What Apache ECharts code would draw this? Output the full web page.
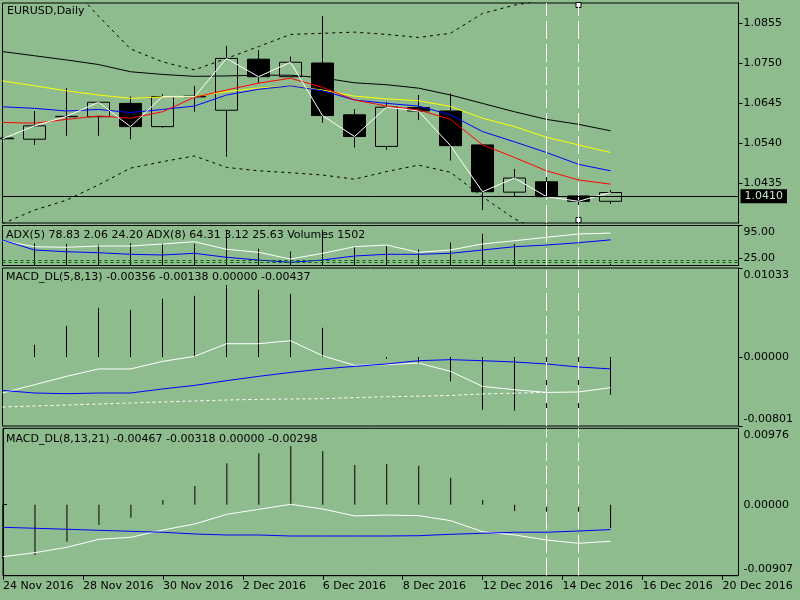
<!DOCTYPE html>
<html lang="en">
<head>
<meta charset="utf-8">
<title>EURUSD,Daily</title>
<script src="https://cdn.jsdelivr.net/npm/echarts@6/dist/echarts.min.js"></script>
<style>
    html, body { margin: 0; padding: 0; background: #8fbc8f; }
    #chart { width: 800px; height: 600px; }
</style>
</head>
<body>
<div id="chart"></div>
<script type="text/javascript">
// bar slots (20 bars drawn + 4 empty slots on the right)
var barDates = ['2016.11.24', '2016.11.25', '2016.11.28', '2016.11.29', '2016.11.30', '2016.12.01',
    '2016.12.02', '2016.12.05', '2016.12.06', '2016.12.07', '2016.12.08', '2016.12.09',
    '2016.12.12', '2016.12.13', '2016.12.14', '2016.12.15', '2016.12.16', '2016.12.19',
    '2016.12.20', '2016.12.21', '2016.12.22', '2016.12.23', '2016.12.26', '2016.12.27'];
var dateTicks = ['24 Nov 2016', '28 Nov 2016', '30 Nov 2016', '2 Dec 2016', '6 Dec 2016',
    '8 Dec 2016', '12 Dec 2016', '14 Dec 2016', '16 Dec 2016', '20 Dec 2016'];

// open, close, low, high
var candles = [
    [1.0553, 1.0551, 1.0546, 1.0558], [1.0550, 1.0585, 1.0535, 1.0624], [1.0609, 1.0610, 1.0559, 1.0684],
    [1.0609, 1.0647, 1.0559, 1.0648], [1.0644, 1.0583, 1.0550, 1.0662], [1.0583, 1.0662, 1.0580, 1.0668],
    [1.0663, 1.0661, 1.0622, 1.0690], [1.0626, 1.0762, 1.0504, 1.0795], [1.0760, 1.0714, 1.0697, 1.0784],
    [1.0714, 1.0752, 1.0713, 1.0767], [1.0750, 1.0612, 1.0593, 1.0873], [1.0614, 1.0557, 1.0528, 1.0629],
    [1.0531, 1.0634, 1.0522, 1.0648], [1.0633, 1.0624, 1.0600, 1.0666], [1.0624, 1.0533, 1.0494, 1.0670],
    [1.0535, 1.0412, 1.0364, 1.0536], [1.0411, 1.0448, 1.0399, 1.0472], [1.0438, 1.0399, 1.0398, 1.0480],
    [1.0401, 1.0387, 1.0348, 1.0415], [1.0387, 1.0410, 1.0380, 1.0417]
];
var closeLine = [1.0551, 1.0585, 1.0610, 1.0647, 1.0583, 1.0662, 1.0661, 1.0762, 1.0714, 1.0752,
    1.0612, 1.0557, 1.0634, 1.0624, 1.0533, 1.0412, 1.0448, 1.0399, 1.0387, 1.0410];
var lastPrice = 1.0410;

var maBlack = [1.0780, 1.0769, 1.0758, 1.0746, 1.0727, 1.0720, 1.0715, 1.0716, 1.0718, 1.0718,
    1.0711, 1.0698, 1.0693, 1.0684, 1.0666, 1.0644, 1.0622, 1.0602, 1.0589, 1.0572];
var maYellow = [1.0703, 1.0690, 1.0677, 1.0666, 1.0657, 1.0661, 1.0662, 1.0675, 1.0684, 1.0690,
    1.0679, 1.0663, 1.0656, 1.0651, 1.0636, 1.0605, 1.0583, 1.0555, 1.0535, 1.0515];
var maBlue = [1.0635, 1.0631, 1.0624, 1.0628, 1.0620, 1.0628, 1.0637, 1.0666, 1.0681, 1.0690,
    1.0677, 1.0653, 1.0644, 1.0637, 1.0614, 1.0570, 1.0543, 1.0515, 1.0484, 1.0467];
var maRed = [1.0594, 1.0592, 1.0602, 1.0611, 1.0605, 1.0622, 1.0660, 1.0679, 1.0697, 1.0710,
    1.0686, 1.0653, 1.0637, 1.0627, 1.0602, 1.0535, 1.0502, 1.0467, 1.0443, 1.0432];
var bandUpper = [1.1010, 1.0990, 1.0964, 1.0873, 1.0787, 1.0753, 1.0732, 1.0762, 1.0793, 1.0825,
    1.0828, 1.0831, 1.0825, 1.0817, 1.0828, 1.0880, 1.0902, 1.0916, 1.0930, 1.0940];
var bandLower = [1.0328, 1.0364, 1.0390, 1.0430, 1.0474, 1.0491, 1.0506, 1.0476, 1.0467, 1.0462,
    1.0456, 1.0445, 1.0465, 1.0482, 1.0463, 1.0399, 1.0341, 1.0300, 1.0280, 1.0270];

// ADX window
var adx5 = [62.5, 49.7, 48.4, 51.2, 51.2, 55.5, 60.4, 44.2, 37.8, 23.4,
    35.6, 49.7, 53.3, 37.8, 42.7, 55.5, 62.5, 69.8, 76.8, 78.83];
var adx8 = [64.0, 42.7, 39.0, 36.9, 33.5, 32.0, 35.6, 27.1, 21.3, 16.4,
    21.3, 29.9, 33.5, 33.5, 35.6, 42.7, 49.7, 53.3, 58.3, 64.31];
var adxLevels = [20, 16];
var adxTicks = [19, 25, 95];
var volumes = [20000, 20100, 19500, 18900, 20100, 20100, 19500, 32100, 15000, 12600,
    32100, 16500, 17400, 14400, 20700, 28500, 19500, 16500, 14100, 1502];

// MACD_DL(5,8,13)
var macd1Hist = [0.00050, 0.00143, 0.00363, 0.00572, 0.00549, 0.00677, 0.00712, 0.00836, 0.00781, 0.00735,
    0.00340, 0.00000, -0.00020, -0.00078, -0.00283, -0.00612, -0.00620, -0.00658, -0.00604, -0.00437];
var macd1Main = [-0.00418, -0.00322, -0.00225, -0.00139, -0.00139, -0.00051, 0.00007, 0.00154, 0.00154, 0.00189,
    0.00015, -0.00097, -0.00089, -0.00070, -0.00167, -0.00341, -0.00380, -0.00411, -0.00406, -0.00356];
var macd1Signal = [-0.00388, -0.00418, -0.00426, -0.00418, -0.00418, -0.00371, -0.00330, -0.00275, -0.00225, -0.00179,
    -0.00139, -0.00109, -0.00081, -0.00043, -0.00031, -0.00043, -0.00058, -0.00081, -0.00116, -0.00138];
var macd1Slow = [-0.00580, -0.00569, -0.00557, -0.00546, -0.00534, -0.00522, -0.00511, -0.00499, -0.00492, -0.00487,
    -0.00484, -0.00472, -0.00461, -0.00455, -0.00446, -0.00429, -0.00420, -0.00411, null, null];

// MACD_DL(8,13,21)
var macd2Hist = [-0.00700, -0.00642, -0.00472, -0.00259, -0.00166, 0.00060, 0.00239, 0.00529, 0.00656, 0.00750,
    0.00686, 0.00507, 0.00520, 0.00498, 0.00345, 0.00060, -0.00080, -0.00217, -0.00323, -0.00298];
var macd2Main = [-0.00664, -0.00613, -0.00544, -0.00442, -0.00416, -0.00323, -0.00246, -0.00123, -0.00059, 0.00005,
    -0.00055, -0.00144, -0.00132, -0.00140, -0.00204, -0.00345, -0.00387, -0.00451, -0.00493, -0.00467];
var macd2Signal = [-0.00289, -0.00301, -0.00314, -0.00327, -0.00340, -0.00352, -0.00374, -0.00387, -0.00387, -0.00400,
    -0.00400, -0.00400, -0.00400, -0.00396, -0.00378, -0.00365, -0.00352, -0.00352, -0.00336, -0.00318];

var vLines = [barDates[17], barDates[18]];

var FONT = 'DejaVu Sans';
var txt = { fontSize: 11, fontWeight: 'normal', color: '#000', fontFamily: FONT };

function vLineData() {
    return vLines.map(function (d) {
        return { xAxis: d, lineStyle: { color: '#fff', type: [18, 5], width: 1 } };
    });
}
function markVLines(extra) {
    return {
        silent: true, symbol: ['none', 'none'], animation: false, z: 10,
        label: { show: false },
        data: vLineData().concat(extra || [])
    };
}
// MT4 style: top label hangs under its tick, bottom label sits above it
function edgeFormatter(min, max, digits) {
    return function (v) {
        var s = v.toFixed(digits);
        if (Math.abs(v - max) < 1e-9) return '{top|' + s + '}';
        if (Math.abs(v - min) < 1e-9) return '{bot|' + s + '}';
        return s;
    };
}
var edgeRich = {
    top: { padding: [14, 0, 0, 0], fontSize: 11, fontFamily: FONT, color: '#000' },
    bot: { padding: [0, 0, 13, 0], fontSize: 11, fontFamily: FONT, color: '#000' }
};
function rightAxis(grid, min, max, extra) {
    var ax = {
        type: 'value', gridIndex: grid, position: 'right', min: min, max: max, scale: true,
        axisLine: { show: true, lineStyle: { color: '#000' } },
        axisTick: { show: true, length: 4, lineStyle: { color: '#000' } },
        axisLabel: { color: '#000', fontSize: 11, fontFamily: FONT, margin: 5, rich: edgeRich, hideOverlap: false },
        splitLine: { show: false }
    };
    for (var k in extra) {
        if (k === 'axisLabel' || k === 'axisTick') {
            for (var j in extra[k]) ax[k][j] = extra[k][j];
        } else {
            ax[k] = extra[k];
        }
    }
    return ax;
}
function catAxis(grid) {
    return { type: 'category', gridIndex: grid, data: barDates, boundaryGap: false, show: false };
}
function line(xi, yi, data, color, type) {
    return {
        type: 'line', xAxisIndex: xi, yAxisIndex: yi, data: data, symbol: 'none', silent: true,
        lineStyle: { color: color, width: 1, type: type || 'solid' }
    };
}
// half-pixel left edge keeps the 1px bars and vertical lines crisp
function gridBox(top, height) {
    return { left: 2.5, right: 61.5, top: top, height: height, show: true, borderColor: '#000', borderWidth: 1 };
}

var chart = echarts.init(document.getElementById('chart'));

var closeSeries = line(0, 0, closeLine, '#fff');
closeSeries.markLine = markVLines([{
    yAxis: lastPrice,
    lineStyle: { color: '#000', type: 'solid', width: 1 },
    label: {
        show: true, position: 'end', distance: 2, formatter: lastPrice.toFixed(4),
        color: '#c8e6c8', backgroundColor: '#000', padding: [2, 4, 1, 4],
        fontSize: 11, fontFamily: FONT
    }
}]);
closeSeries.markPoint = {
    symbol: 'rect', symbolSize: 5, silent: true, animation: false,
    itemStyle: { color: '#fff', borderColor: '#000', borderWidth: 1 },
    label: { show: false },
    data: [{ coord: [barDates[18], 1.09023] }, { coord: [barDates[18], 1.03379] }]
};

var adxSeries = line(1, 1, adx5, '#fff');
adxSeries.markLine = markVLines(adxLevels.map(function (v) {
    return { yAxis: v, lineStyle: { color: '#006400', type: [3, 3], width: 1 } };
}));

var hist1 = { type: 'bar', xAxisIndex: 2, yAxisIndex: 3, data: macd1Hist, barWidth: 1,
    itemStyle: { color: '#000' }, silent: true, markLine: markVLines() };
var hist2 = { type: 'bar', xAxisIndex: 3, yAxisIndex: 4, data: macd2Hist, barWidth: 1,
    itemStyle: { color: '#000' }, silent: true, markLine: markVLines() };

var option = {
    backgroundColor: '#8fbc8f',
    animation: false,
    title: [
        { text: 'EURUSD,Daily', left: 7, top: 5.5, padding: 0, textStyle: txt },
        { text: 'ADX(5) 78.83 2.06 24.20 ADX(8) 64.31 3.12 25.63 Volumes 1502', left: 6, top: 229.5, padding: 0, textStyle: txt },
        { text: 'MACD_DL(5,8,13) -0.00356 -0.00138 0.00000 -0.00437', left: 6, top: 272, padding: 0, textStyle: txt },
        { text: 'MACD_DL(8,13,21) -0.00467 -0.00318 0.00000 -0.00298', left: 6, top: 433.5, padding: 0, textStyle: txt }
    ],
    grid: [gridBox(3, 220), gridBox(225.5, 40), gridBox(268, 158), gridBox(428.3, 147.4)],
    xAxis: [
        catAxis(0), catAxis(1), catAxis(2), catAxis(3),
        {
            type: 'value', gridIndex: 3, position: 'bottom', min: 0, max: 23, interval: 2.5,
            axisLine: { show: true, lineStyle: { color: '#000' } },
            axisTick: { show: true, length: 4, lineStyle: { color: '#000' } },
            splitLine: { show: false },
            axisLabel: {
                color: '#000', fontSize: 11, fontFamily: FONT, margin: 5, align: 'left', showMaxLabel: false,
                formatter: function (v) {
                    var k = Math.round(v / 2.5);
                    if (Math.abs(v / 2.5 - k) > 1e-6) return '';
                    return dateTicks[k] || '';
                }
            }
        }
    ],
    yAxis: [
        rightAxis(0, 1.0330, 1.09075, {
            interval: 0.0105,
            axisLabel: { showMinLabel: false, showMaxLabel: false, formatter: function (v) { return v.toFixed(4); } }
        }),
        rightAxis(1, 9.6, 95, {
            axisLabel: { customValues: adxTicks, formatter: edgeFormatter(9.6, 95, 2) },
            axisTick: { customValues: adxTicks }
        }),
        { type: 'value', gridIndex: 1, min: 0, max: 36000, show: false, splitLine: { show: false } },
        rightAxis(2, -0.00801, 0.01033, {
            interval: 0.00801,
            axisLabel: { customValues: [-0.00801, 0, 0.01033], formatter: edgeFormatter(-0.00801, 0.01033, 5) },
            axisTick: { customValues: [-0.00801, 0, 0.01033] }
        }),
        rightAxis(3, -0.00907, 0.00976, {
            interval: 0.00907,
            axisLabel: { customValues: [-0.00907, 0, 0.00976], formatter: edgeFormatter(-0.00907, 0.00976, 5) },
            axisTick: { customValues: [-0.00907, 0, 0.00976] }
        })
    ],
    series: [
        {
            type: 'candlestick', xAxisIndex: 0, yAxisIndex: 0, data: candles.map(function (c) { return [c[0], c[1], c[2], c[3]]; }),
            barWidth: 23, silent: true,
            itemStyle: { color: 'rgba(0,0,0,0)', color0: '#000', borderColor: '#000', borderColor0: '#000', borderWidth: 1 }
        },
        line(0, 0, bandUpper, '#000', [3, 4]),
        line(0, 0, bandLower, '#000', [3, 4]),
        line(0, 0, maBlack, '#000'),
        line(0, 0, maYellow, '#ffff00'),
        line(0, 0, maBlue, '#0000ff'),
        line(0, 0, maRed, '#ff0000'),
        closeSeries,

        { type: 'bar', xAxisIndex: 1, yAxisIndex: 2, data: volumes, barWidth: 1, itemStyle: { color: '#000' }, silent: true },
        adxSeries,
        line(1, 1, adx8, '#0000ff'),

        hist1,
        line(2, 3, macd1Main, '#fff'),
        line(2, 3, macd1Signal, '#0000ff'),
        line(2, 3, macd1Slow, '#fff', [3, 3]),

        hist2,
        line(3, 4, macd2Main, '#fff'),
        line(3, 4, macd2Signal, '#0000ff')
    ]
};
chart.setOption(option);
</script>
</body>
</html>
